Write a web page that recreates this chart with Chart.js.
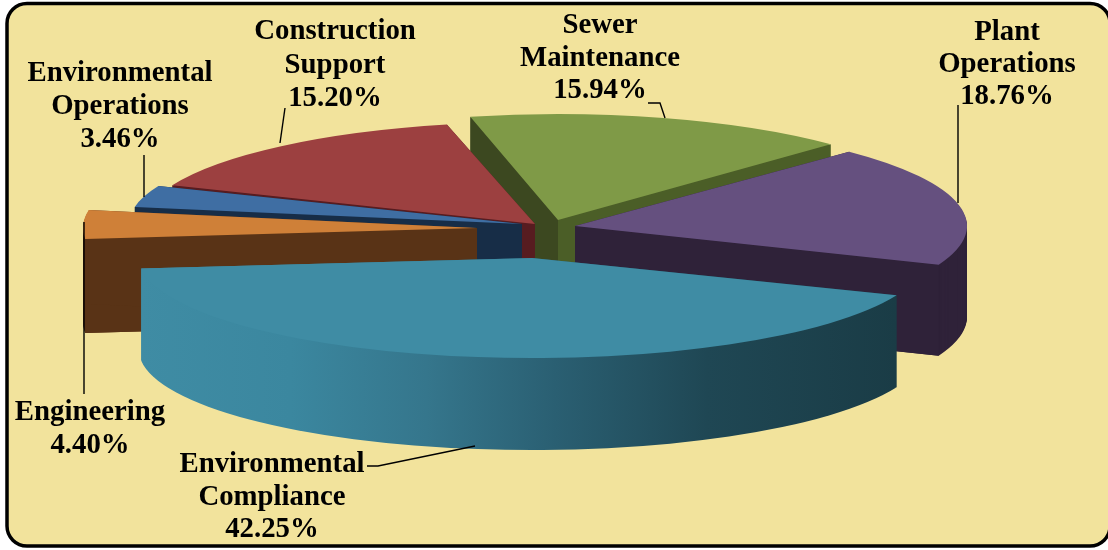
<!DOCTYPE html>
<html><head><meta charset="utf-8">
<style>html,body{margin:0;padding:0;background:#fff}canvas{display:block}</style>
<script src="https://cdn.jsdelivr.net/npm/chart.js@4"></script>
</head><body><canvas id="c" width="1108" height="550"></canvas>
<script>
const categories = ["Sewer Maintenance","Plant Operations","Environmental Compliance","Engineering","Environmental Operations","Construction Support"];
const shares = [15.94,18.76,42.25,4.40,3.46,15.20];
const topColors = ["#7f9a47","#65507f","#3f8ca4","#cf8038","#3f6ea3","#9c4040"];
const wallColors = ["#3c4820","#2f2239","#1a3c46","#593316","#172d47","#571c20"];

// where each exploded slice sits on the page: apex, ellipse radii, wall height
const sliceLayout = [
  {ax:558,ay:220,rx:390,ry:106,d:92},
  {ax:575,ay:226,rx:392,ry:104,d:91},
  {ax:532,ay:258,rx:393,ry:100,d:92},
  {ax:477,ay:228,rx:394,ry:105,d:94},
  {ax:522,ay:224,rx:393,ry:100,d:60},
  {ax:535,ay:224,rx:392,ry:102,d:60}
];
const paintOrder = [0,5,4,1,3,2];

const labelLines = [["Sewer","Maintenance"],["Plant","Operations"],["Environmental","Compliance"],["Engineering"],["Environmental","Operations"],["Construction","Support"]];
const labelAnchors = [
  {x:600,y:26,lh:32.5},{x:1007,y:33,lh:32},{x:272,y:465,lh:32.5},
  {x:90,y:413,lh:33},{x:120,y:74,lh:33},{x:335,y:32,lh:33.5}
];
const leaders = [
  [[648,103],[660,103],[665,118]],
  [[958,105],[958,203]],
  [[367,466],[378,466],[475,446]],
  [[84,222],[84,394]],
  [[144,155],[144,197]],
  [[285,108],[280,143]]
];

function toUserX(el,L,X){ return el.x + (X-L.ax)*el.outerRadius/L.rx; }

function wallFill(ctx,el,L,i){
  if(i===2){
    const g=ctx.createLinearGradient(toUserX(el,L,140),0,toUserX(el,L,896),0);
    g.addColorStop(0,"#3f8ca4");g.addColorStop(0.2,"#3b879f");g.addColorStop(0.38,"#35768c");
    g.addColorStop(0.55,"#2a5f72");g.addColorStop(0.75,"#1f4754");g.addColorStop(1,"#1a3c46");
    return g;
  }
  if(i===0){
    const X=toUserX(el,L,L.ax);
    const g=ctx.createLinearGradient(X-1,0,X+1,0);
    g.addColorStop(0.49,"#3c4820");g.addColorStop(0.51,"#4b5e27");
    return g;
  }
  return wallColors[i];
}

const pie3d = {
  id:"pie3d",
  beforeDraw(chart){
    const c=chart.ctx;
    c.save();
    c.fillStyle="#ffffff";c.fillRect(0,0,1108,550);
    c.beginPath();c.roundRect(7,3.5,1103,542.5,20);
    c.fillStyle="#f2e39c";c.fill();
    c.lineWidth=3.5;c.strokeStyle="#000";c.stroke();
    c.restore();
  },
  beforeDatasetsDraw(chart){
    const c=chart.ctx, arcs=chart.getDatasetMeta(0).data;
    paintOrder.forEach(i=>{
      const el=arcs[i], L=sliceLayout[i], R=el.outerRadius, base=el.options;
      const place=dy=>{
        c.setTransform(L.rx/R,0,0,L.ry/R,L.ax-el.x*L.rx/R,L.ay+dy-el.y*L.ry/R);
      };
      c.save();
      const fill=wallFill(c,el,L,i);
      el.options=Object.assign({},base,{backgroundColor:fill,borderWidth:0});
      for(let d=L.d;d>0;d--){place(d);el.draw(c);}
      // solid faces of the two cut edges, so the stacked wedge tips leave no fringe
      place(0);
      const h=L.d*R/L.ry;
      c.fillStyle=fill;
      [el.startAngle,el.endAngle].forEach(a=>{
        const px=el.x+R*Math.cos(a), py=el.y+R*Math.sin(a);
        c.beginPath();
        c.moveTo(el.x,el.y);c.lineTo(px,py);c.lineTo(px,py+h);c.lineTo(el.x,el.y+h);
        c.closePath();c.fill();
      });
      el.options=Object.assign({},base,{backgroundColor:topColors[i],borderWidth:0});
      place(0);el.draw(c);
      el.options=base;
      c.restore();
    });
    return false;
  },
  afterDraw(chart){
    const c=chart.ctx;
    c.save();
    c.strokeStyle="#000";c.lineWidth=1.4;
    leaders.forEach(p=>{
      c.beginPath();
      p.forEach((q,k)=>k?c.lineTo(q[0],q[1]):c.moveTo(q[0],q[1]));
      c.stroke();
    });
    c.fillStyle="#000";c.textAlign="center";c.textBaseline="middle";
    c.font='bold 28.8px "Liberation Serif"';
    labelLines.forEach((lines,i)=>{
      const A=labelAnchors[i];
      lines.concat([shares[i].toFixed(2)+"%"]).forEach((t,k)=>c.fillText(t,A.x,A.y+k*A.lh));
    });
    c.restore();
  }
};

new Chart(document.getElementById("c"),{
  type:"pie",
  data:{labels:categories,datasets:[{data:shares,backgroundColor:topColors,borderWidth:0}]},
  options:{
    responsive:false,animation:false,rotation:-13,
    layout:{padding:0},
    plugins:{legend:{display:false},tooltip:{enabled:false}}
  },
  plugins:[pie3d]
});
</script></body></html>
